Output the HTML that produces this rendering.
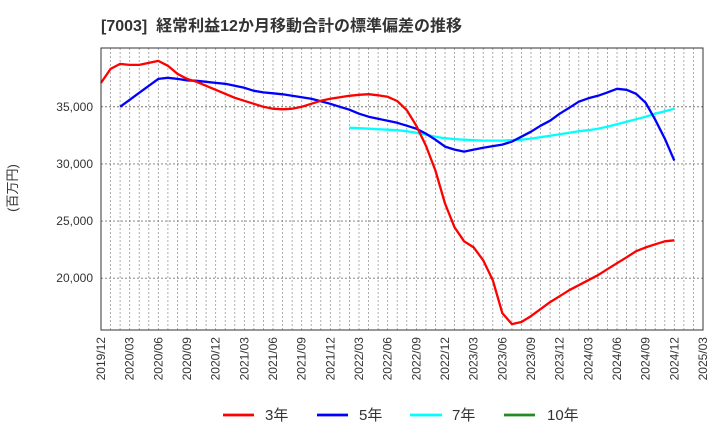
<!DOCTYPE html>
<html><head><meta charset="utf-8"><style>
body{margin:0;background:#fff;}
svg{display:block;font-family:"Liberation Sans","Noto Sans CJK JP",sans-serif;}
</style></head><body>
<svg id="chart" width="720" height="440" viewBox="0 0 720 440">
<text x="101" y="31" font-size="16" font-weight="bold" fill="#333">[7003]&#160; 経常利益12か月移動合計の標準偏差の推移</text>
<text transform="translate(17,188) rotate(-90)" text-anchor="middle" font-size="13" fill="#333">(百万円)</text>
<g id="grid"></g>
<g id="yticks"></g>
<g id="xticks"></g>
<g id="series"></g>
<rect x="101" y="48" width="602" height="282" fill="none" stroke="#333" stroke-width="1"/>
<g>
<g><line x1="223" y1="415" x2="254" y2="415" stroke="#ff0000" stroke-width="2.8"/><text x="265" y="420" font-size="15" fill="#333">3年</text></g>
<g><line x1="317" y1="415" x2="348" y2="415" stroke="#0000ff" stroke-width="2.8"/><text x="359" y="420" font-size="15" fill="#333">5年</text></g>
<g><line x1="410" y1="415" x2="442" y2="415" stroke="#00ffff" stroke-width="2.8"/><text x="452" y="420" font-size="15" fill="#333">7年</text></g>
<g><line x1="504" y1="415" x2="535" y2="415" stroke="#228b22" stroke-width="2.8"/><text x="547" y="420" font-size="15" fill="#333">10年</text></g>
</g>
</svg>
<script>
const xLabels = ["2019/12","2020/03","2020/06","2020/09","2020/12","2021/03","2021/06","2021/09","2021/12","2022/03","2022/06","2022/09","2022/12","2023/03","2023/06","2023/09","2023/12","2024/03","2024/06","2024/09","2024/12","2025/03"];
const yTicks = [20000,25000,30000,35000];
const s3Start = 0;
const s3 = [37090,38310,38750,38660,38660,38840,39010,38580,37880,37440,37180,36830,36480,36130,35780,35520,35260,35000,34830,34780,34830,35000,35260,35520,35700,35830,35960,36050,36100,36000,35870,35500,34700,33340,31600,29420,26540,24450,23230,22700,21570,19830,16950,15990,16170,16690,17300,17910,18430,18950,19390,19830,20260,20790,21310,21830,22360,22700,22970,23230,23320];
const s5Start = 2;
const s5 = [35000,35610,36220,36830,37440,37530,37440,37310,37270,37180,37090,37010,36830,36660,36400,36260,36180,36090,35960,35830,35700,35480,35260,35000,34740,34390,34130,33950,33780,33600,33340,33080,32650,32120,31510,31250,31080,31250,31420,31560,31690,31950,32380,32820,33340,33780,34390,34910,35440,35740,35960,36260,36570,36480,36130,35350,33870,32210,30290];
const s7Start = 26;
const s7 = [33170,33130,33080,33040,32990,32950,32860,32730,32560,32380,32250,32170,32120,32080,32040,32040,32040,32080,32120,32210,32340,32470,32600,32730,32860,32950,33080,33260,33470,33690,33910,34130,34390,34610,34830];

const X0=101, X1=703, NM=63, Y0=48, Y1=330;
const VMAX=40140, VMIN=15470;
const xs = i => X0 + (X1-X0)*i/NM;
const ys = v => Y0 + (VMAX-v)/(VMAX-VMIN)*(Y1-Y0);
const NS="http://www.w3.org/2000/svg";
const grid=document.getElementById('grid'), yt=document.getElementById('yticks'), xt=document.getElementById('xticks'), ser=document.getElementById('series');
for(let i=1;i<NM;i++){
  const l=document.createElementNS(NS,'line');
  
  
  l.setAttribute('x1',xs(i));l.setAttribute('x2',xs(i));l.setAttribute('y1',Y0);l.setAttribute('y2',Y1);
  l.setAttribute('stroke','#999');l.setAttribute('stroke-dasharray','2,2');l.setAttribute('stroke-width','0.8');
  grid.appendChild(l);
}
yTicks.forEach(v=>{
  const l=document.createElementNS(NS,'line');
  
  
  l.setAttribute('x1',X0);l.setAttribute('x2',X1);l.setAttribute('y1',ys(v));l.setAttribute('y2',ys(v));
  l.setAttribute('stroke','#777');l.setAttribute('stroke-dasharray','2,2');l.setAttribute('stroke-width','0.9');
  grid.appendChild(l);
  const t=document.createElementNS(NS,'text');
  
  
  t.setAttribute('x',93);t.setAttribute('y',ys(v)+4);t.setAttribute('text-anchor','end');
  t.setAttribute('font-size','12');t.setAttribute('fill','#333');
  t.textContent=v.toLocaleString('en-US');
  yt.appendChild(t);
});
xLabels.forEach((s,k)=>{
  const x=xs(k*3);
  const t=document.createElementNS(NS,'text');
  
  
  t.setAttribute('transform','translate('+(x+4)+',337) rotate(-90)');
  t.setAttribute('text-anchor','end');t.setAttribute('font-size','12');t.setAttribute('fill','#333');
  t.textContent=s;
  xt.appendChild(t);
});
function draw(arr,start,color,name){
  const p=document.createElementNS(NS,'polyline');
  
  
  p.setAttribute('points',arr.map((v,j)=>xs(start+j).toFixed(1)+','+ys(v).toFixed(1)).join(' '));
  p.setAttribute('fill','none');p.setAttribute('stroke',color);p.setAttribute('stroke-width','2.3');p.setAttribute('stroke-linejoin','round');
  ser.appendChild(p);
}
draw(s7,s7Start,'#00ffff','line-7y');
draw(s5,s5Start,'#0000ff','line-5y');
draw(s3,s3Start,'#ff0000','line-3y');
</script>
</body></html>
